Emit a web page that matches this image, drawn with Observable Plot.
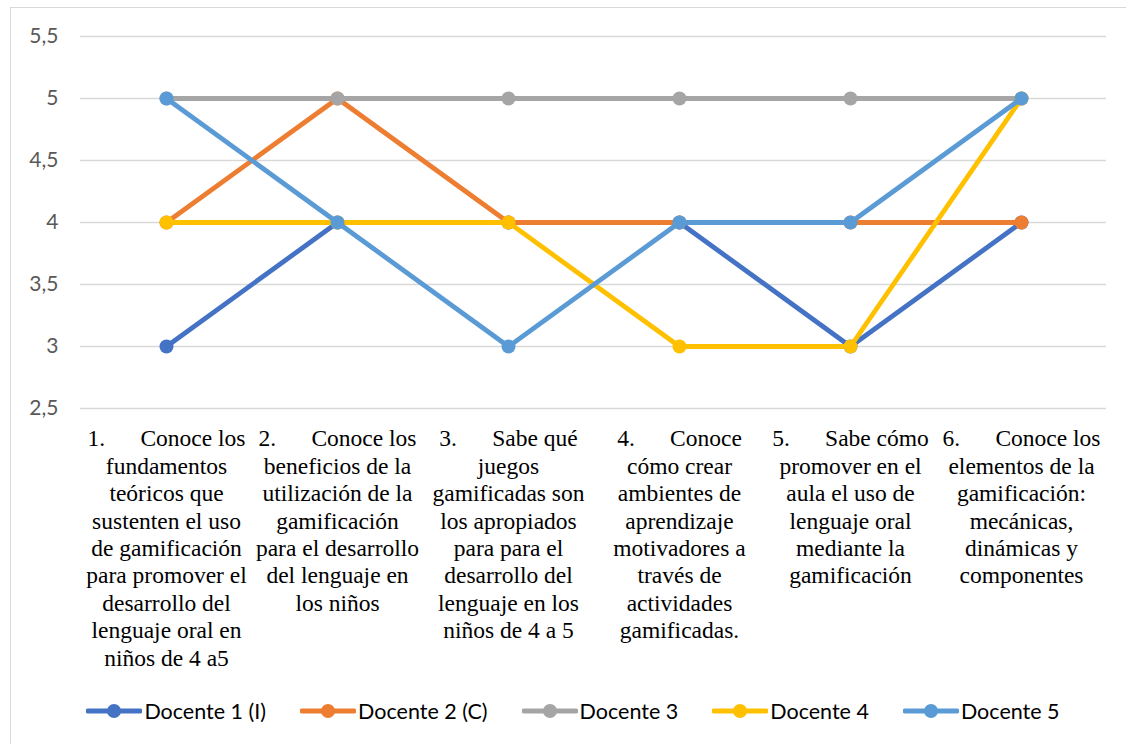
<!DOCTYPE html>
<html>
<head>
<meta charset="utf-8">
<script src="https://cdn.jsdelivr.net/npm/d3@7"></script>
<script src="https://cdn.jsdelivr.net/npm/@observablehq/plot@0.6"></script>
<style>
  html, body { margin: 0; padding: 0; background: #fff; }
  #wrap { position: relative; width: 1126px; height: 744px; overflow: hidden; }
  #border { position: absolute; left: 10px; top: 7px; width: 1200px; height: 800px; border: 1.5px solid #d9d9d9; box-sizing: border-box; pointer-events: none; }
  #chart { position: absolute; left: 0; top: 0; }
  #legend { position: absolute; left: 0; top: 698px; width: 1126px; display: flex; justify-content: center; align-items: center; gap: 34px; font-family: Lato, "Open Sans", sans-serif; font-size: 21.5px; color: #000; padding-left: 20px; box-sizing: border-box; }
  .item { display: flex; align-items: center; }
  .item svg { margin-right: 2px; }
</style>
</head>
<body>
<div id="wrap">
  <div id="chart"></div>
  <div id="legend"></div>
  <div id="border"></div>
</div>
<script>
const nb = "\u00A0".repeat(6);
const categories = [
  "1." + nb + "Conoce los\nfundamentos\nteóricos que\nsustenten el uso\nde gamificación\npara promover el\ndesarrollo del\nlenguaje oral en\nniños de 4 a5",
  "2." + nb + "Conoce los\nbeneficios de la\nutilización de la\ngamificación\npara el desarrollo\ndel lenguaje en\nlos niños",
  "3." + nb + "Sabe qué\njuegos\ngamificadas son\nlos apropiados\npara para el\ndesarrollo del\nlenguaje en los\nniños de 4 a 5",
  "4." + nb + "Conoce\ncómo crear\nambientes de\naprendizaje\nmotivadores a\ntravés de\nactividades\ngamificadas.",
  "5." + nb + "Sabe cómo\npromover en el\naula el uso de\nlenguaje oral\nmediante la\ngamificación",
  "6." + nb + "Conoce los\nelementos de la\ngamificación:\nmecánicas,\ndinámicas y\ncomponentes"
];
const seriesNames = ["Docente 1 (I)", "Docente 2 (C)", "Docente 3", "Docente 4", "Docente 5"];
const docente1 = [3, 4, 4, 4, 3, 4];
const docente2 = [4, 5, 4, 4, 4, 4];
const docente3 = [5, 5, 5, 5, 5, 5];
const docente4 = [4, 4, 4, 3, 3, 5];
const docente5 = [5, 4, 3, 4, 4, 5];
const colors = ["#4472C4", "#ED7D31", "#A5A5A5", "#FFC000", "#5B9BD5"];
const yTicks = [2.5, 3, 3.5, 4, 4.5, 5, 5.5];

const allSeries = [docente1, docente2, docente3, docente4, docente5];
const data = [];
allSeries.forEach((vals, si) => {
  vals.forEach((v, i) => data.push({serie: seriesNames[si], cat: categories[i], value: v}));
});

const marks = [
  Plot.ruleY(yTicks, {stroke: "#d9d9d9", strokeWidth: 1.5}),
  Plot.axisY(yTicks, {tickSize: 0, tickPadding: 22, fontSize: 21, fill: "#595959", label: null,
    fontFamily: "Lato, 'Open Sans', sans-serif", tickFormat: d => String(d).replace(".", ",")}),
  Plot.text(categories, {x: d => d, y: () => 2.5, text: d => d, lineAnchor: "top", dy: 18,
    fontSize: 23.5, lineHeight: 1.17, fontFamily: "'Liberation Serif', 'Times New Roman', serif", fill: "#000"})
];
seriesNames.forEach((name, si) => {
  const d = data.filter(r => r.serie === name);
  marks.push(Plot.line(d, {x: "cat", y: "value", stroke: colors[si], strokeWidth: 4.8, strokeLinecap: "round", strokeLinejoin: "round"}));
  marks.push(Plot.dot(d, {x: "cat", y: "value", r: 7, fill: colors[si], stroke: "none"}));
});

const chart = Plot.plot({
  width: 1126,
  height: 690,
  marginTop: 36,
  marginBottom: 282,
  marginLeft: 80,
  marginRight: 20,
  x: {type: "point", domain: categories, padding: 0.5, axis: null},
  y: {domain: [2.5, 5.5], axis: null},
  style: {background: "transparent", overflow: "visible"},
  marks
});
document.getElementById("chart").appendChild(chart);

const legend = document.getElementById("legend");
seriesNames.forEach((name, si) => {
  const item = document.createElement("div");
  item.className = "item";
  item.innerHTML = `<svg width="56" height="20"><line x1="2" y1="10" x2="54" y2="10" stroke="${colors[si]}" stroke-width="5" stroke-linecap="round"/><circle cx="28" cy="10" r="7" fill="${colors[si]}"/></svg><span>${name}</span>`;
  legend.appendChild(item);
});
</script>
</body>
</html>
